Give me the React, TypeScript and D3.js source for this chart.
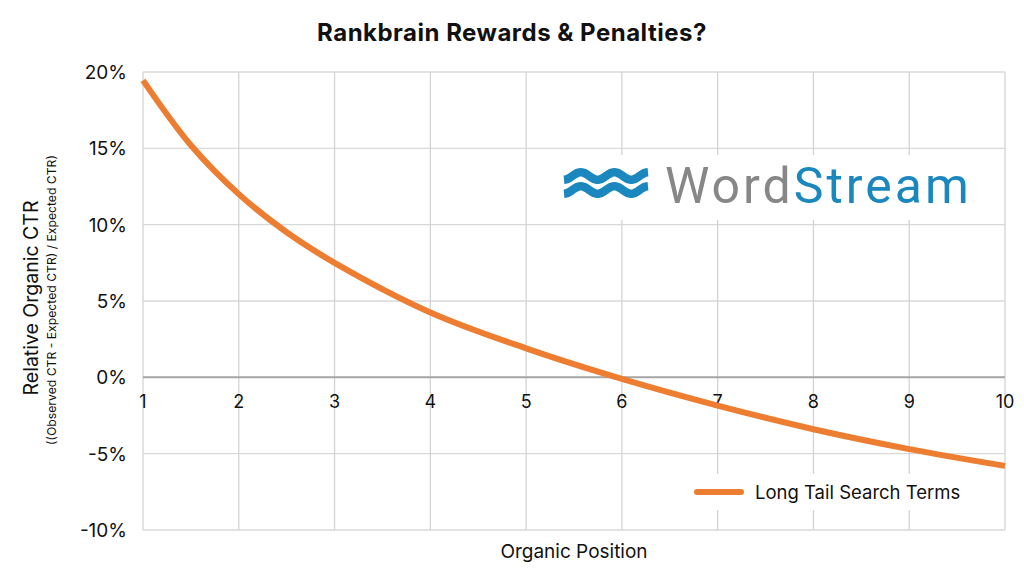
import * as d3 from "d3"

const positions = [1, 2, 3, 4, 5, 6, 7, 8, 9, 10]
// curve readings (organic position -> relative CTR %)
const curvePositions = [1, 1.5, 2, 2.5, 3, 4, 5, 6, 7, 8, 9, 10]
const relativeCtr = [19.45, 15.2, 12.0, 9.5, 7.5, 4.25, 1.9, -0.1, -1.85, -3.4, -4.7, -5.8]
const yTicks = [20, 15, 10, 5, 0, -5, -10]
const seriesName = "Long Tail Search Terms"

const ORANGE = "#ED7D31"
const BLUE = "#1B87BF"
const FONT = "Inter, 'Open Sans', sans-serif"

const W = 1024
const H = 576
const plot = { left: 143, right: 1005, top: 72, bottom: 530 }

export default function App() {
  const x = d3.scaleLinear().domain([1, 10]).range([plot.left, plot.right])
  const y = d3.scaleLinear().domain([-10, 20]).range([plot.bottom, plot.top])

  const line = d3
    .line<number>()
    .x((_, i) => x(curvePositions[i]))
    .y((d) => y(d))
    .curve(d3.curveCatmullRom.alpha(0.5))

  // wave path for the logo mark
  const wave = (x0: number, y0: number) => {
    const pts: [number, number][] = d3.range(0, 61).map((i) => {
      const t = i / 60
      return [x0 + t * 84, y0 + Math.cos(t * Math.PI * 5) * 3.8]
    })
    return d3.line().curve(d3.curveBasis)(pts) ?? ""
  }

  return (
    <svg width={W} height={H} style={{ display: "block", margin: -8 }} fontFamily={FONT}>
      <rect width={W} height={H} fill="#fff" />
      <text x={512} y={41} textAnchor="middle" fontSize={24} fontWeight={700} fill="#111" letterSpacing={0.5}>
        Rankbrain Rewards &amp; Penalties?
      </text>

      {/* grid */}
      {yTicks.map((t) => (
        <line key={"h" + t} x1={plot.left} x2={plot.right} y1={y(t)} y2={y(t)} stroke="#d9d9d9" strokeWidth={1.3} />
      ))}
      {positions.map((p) => (
        <line key={"v" + p} x1={x(p)} x2={x(p)} y1={plot.top} y2={plot.bottom} stroke="#d4d4d4" strokeWidth={1.3} />
      ))}
      <line x1={plot.left} x2={plot.right} y1={y(0)} y2={y(0)} stroke="#a6a6a6" strokeWidth={2} />

      {/* logo */}
      <rect x={548} y={155} width={436} height={65} fill="#fff" />
      <path d={wave(564, 176)} fill="none" stroke={BLUE} strokeWidth={8.5} />
      <path d={wave(564, 190)} fill="none" stroke={BLUE} strokeWidth={8.5} />
      <text x={665} y={203} fontSize={50} fontFamily="Roboto, sans-serif" letterSpacing={3}>
        <tspan fill="#878787">Word</tspan>
        <tspan fill={BLUE}>Stream</tspan>
      </text>

      {/* y tick labels */}
      {yTicks.map((t) => (
        <text key={"yl" + t} x={127} y={y(t) + 7} textAnchor="end" fontSize={19} fill="#111">
          {t + "%"}
        </text>
      ))}
      {/* x tick labels */}
      {positions.map((p) => (
        <text key={"xl" + p} x={x(p)} y={408} textAnchor="middle" fontSize={18} fill="#111">
          {p}
        </text>
      ))}

      {/* legend */}
      <rect x={682} y={474} width={318} height={36} fill="#fff" />
      <line x1={697} x2={741} y1={492} y2={492} stroke={ORANGE} strokeWidth={6} strokeLinecap="round" />
      <text x={755} y={499} fontSize={18.5} fill="#111">
        {seriesName}
      </text>

      <path d={line(relativeCtr) ?? ""} fill="none" stroke={ORANGE} strokeWidth={6} />

      {/* axis titles */}
      <text x={574} y={558} textAnchor="middle" fontSize={19} fill="#111">
        Organic Position
      </text>
      <text transform="translate(38,298) rotate(-90)" textAnchor="middle" fontSize={19.5} fill="#111">
        Relative Organic CTR
      </text>
      <text transform="translate(56,300) rotate(-90)" textAnchor="middle" fontSize={12.2} fill="#111">
        ((Observed CTR - Expected CTR) / Expected CTR)
      </text>
    </svg>
  )
}
